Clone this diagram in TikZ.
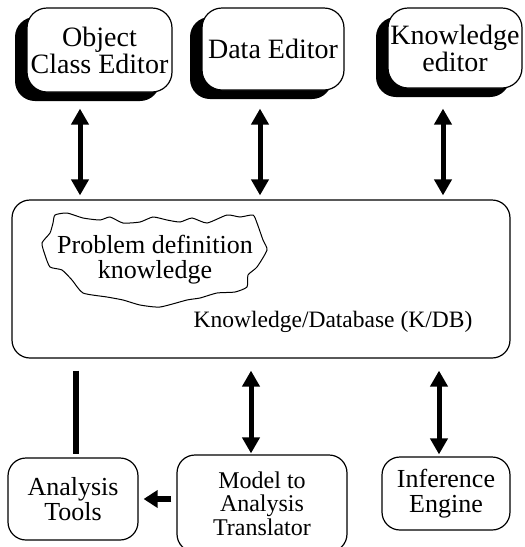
\documentclass[tikz,border=0pt]{standalone}
\usepackage{fontspec}
\setmainfont{Liberation Serif}
\usetikzlibrary{arrows.meta,positioning,shadows}

\begin{document}
\begin{tikzpicture}[x=1pt, y=-1pt, box/.style={draw, rounded corners=18pt, line width=1.2pt, fill=white, align=center, inner sep=0pt, font=\fontsize{26}{25}\selectfont}, editor/.style={box, rounded corners=20pt, font=\fontsize{28}{27}\selectfont, drop shadow={shadow xshift=-12pt, shadow yshift=-9pt, fill=black, opacity=1}}, link/.style={line width=5pt, {Triangle[width=17pt,length=16pt]}-{Triangle[width=17pt,length=16pt]}}, >={Triangle[width=17pt,length=14pt]}]
\useasboundingbox (0,0) rectangle (525,547);
\clip (0,0) rectangle (525,547);
\node[editor, minimum width=145pt, minimum height=84pt] (oce) at (99.5,50) {Object\\Class Editor};
\node[editor, minimum width=142pt, minimum height=82pt] (de) at (273,49) {Data Editor};
\node[editor, minimum width=134pt, minimum height=80pt] (ke) at (455,48) {Knowledge\\editor};
\node[box, minimum width=498pt, minimum height=158pt] (kdb) at (261,279) {};
\draw[line width=1pt, fill=white] plot[smooth cycle, tension=0.35] coordinates {(55,215) (67,213) (83,218) (100,220) (110,217) (123,223) (140,222) (153,217) (167,220) (180,222) (192,218) (207,223) (227,215) (240,217) (253,215) (257,223) (263,240) (267,250) (257,267) (248,275) (247,287) (235,292) (217,293) (200,298) (187,300) (160,307) (140,305) (123,300) (107,297) (83,293) (72,280) (62,270) (50,267) (45,255) (42,243) (50,233) (53,223)};
\node[align=center, font=\fontsize{26}{25}\selectfont, inner sep=0pt] (pdk) at (155,260) {Problem definition\\knowledge};
\node[font=\fontsize{23.5}{24}\selectfont, inner sep=0pt] (kdbtext) at (333,322) {Knowledge/Database (K/DB)};
\node[box, minimum width=130pt, minimum height=82pt] (at) at (73,499) {Analysis\\Tools};
\node[box, minimum width=170pt, minimum height=97pt, font=\fontsize{24}{23.5}\selectfont] (mat) at (262,503.5) {Model to\\Analysis\\Translator};
\node[box, minimum width=128pt, minimum height=73pt] (ie) at (446,493.5) {Inference\\Engine};
% editors <-> K/DB
\draw[link, shorten <=16pt, shorten >=4pt] ([xshift=-19.5pt]oce.south) -- ([xshift=-19.5pt]oce.south |- kdb.north);
\draw[link, shorten <=18pt, shorten >=4pt] ([xshift=-13pt]de.south) -- ([xshift=-13pt]de.south |- kdb.north);
\draw[link, shorten <=20pt, shorten >=4pt] ([xshift=-12pt]ke.south) -- ([xshift=-12pt]ke.south |- kdb.north);
% K/DB to the tools below
\draw[line width=6pt, shorten <=12pt, shorten >=3pt] ([xshift=3pt]at.north |- kdb.south) -- ([xshift=3pt]at.north);
\draw[link, shorten <=12pt, shorten >=1pt] ([xshift=-11pt]mat.north |- kdb.south) -- ([xshift=-11pt]mat.north);
\draw[link, shorten <=12pt, shorten >=2pt] ([xshift=-7pt]ie.north |- kdb.south) -- ([xshift=-7pt]ie.north);
\draw[->, line width=6pt, shorten <=5pt, shorten >=5pt] (mat.west |- at.east) -- (at.east);
\end{tikzpicture}
\end{document}
